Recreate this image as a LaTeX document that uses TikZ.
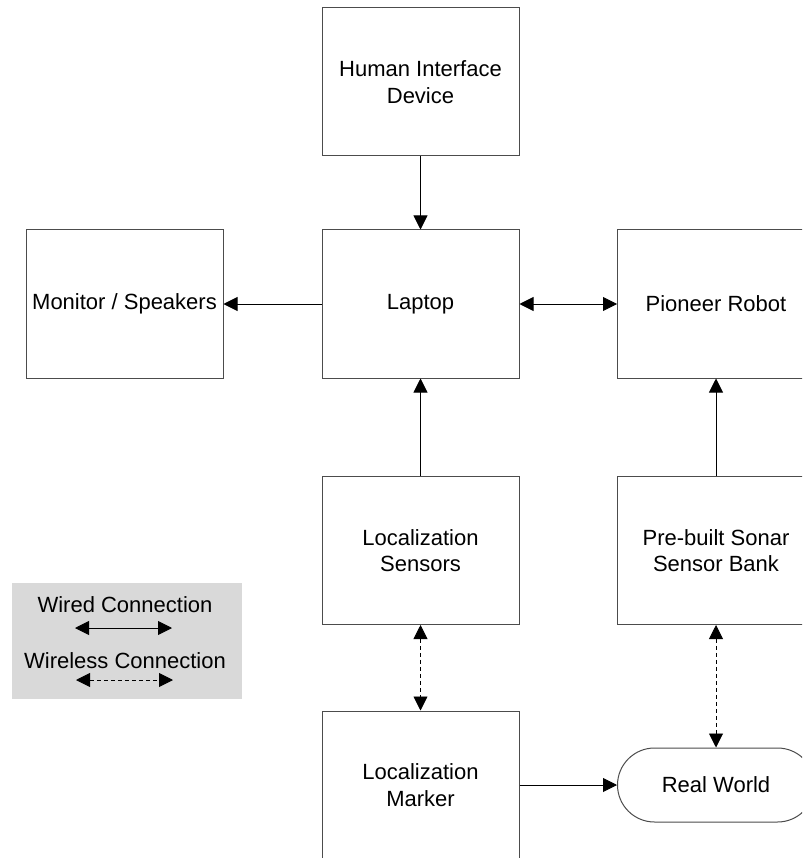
\documentclass[tikz,border=0pt]{standalone}
\usepackage{fontspec}
\setmainfont{Liberation Sans}
\usetikzlibrary{arrows.meta}
\begin{document}
\begin{tikzpicture}[x=1pt,y=-1pt,
  txt/.style={font=\fontsize{22}{26.5}\selectfont, align=center, inner sep=0pt},
  blk/.style={txt, draw=black!70, line width=1pt, fill=white,
    minimum width=197pt, minimum height=148pt},
  world/.style={txt, draw=black!70, line width=1pt, fill=white,
    minimum width=197pt, minimum height=74pt, rounded corners=37pt},
  tip/.tip={Triangle[length=14pt,width=14pt]},
  conn/.style={line width=0.9pt, -tip},
  both/.style={line width=0.9pt, tip-tip},
  wless/.style={both, dash pattern=on 4pt off 3pt},
  legendbox/.style={fill=black!15, draw=none, minimum width=230pt, minimum height=116pt, inner sep=0pt}]
\clip (0,0) rectangle (802,858);
\fill[white] (0,0) rectangle (802,858);

% blocks
\node[blk] (hid)     at (420.5,82)   {Human Interface\\Device};
\node[blk] (laptop)  at (420.5,304)  {Laptop};
\node[blk] (monitor) at (124.5,304)  {Monitor / Speakers};
\node[blk] (robot)   at (716,304)    {Pioneer Robot};
\node[blk] (locs)    at (420.5,550.5){Localization\\Sensors};
\node[blk] (sonar)   at (716,550.5)  {Pre-built Sonar\\Sensor Bank};
\node[blk] (marker)  at (420.5,785)  {Localization\\Marker};
\node[world] (real)  at (716,785)    {Real World};

% wired links
\draw[conn] (hid) -- (laptop);
\draw[conn] (laptop) -- (monitor);
\draw[both] (laptop) -- (robot);
\draw[conn] (locs) -- (laptop);
\draw[conn] (sonar) -- (robot);
\draw[conn] (marker) -- (real);

% wireless links
\draw[wless] (locs) -- (marker);
\draw[wless] (sonar.south) -- (real.north);

% legend
\node[legendbox] (legend) at (127,641) {};
\node[txt] (lwired) at (125,605) {Wired Connection};
\node[txt] (lwless) at (125,661) {Wireless Connection};
\coordinate (wa) at (75,628);
\coordinate (wb) at (172,628);
\coordinate (da) at (76,680);
\coordinate (db) at (173,680);
\draw[both] (wa) -- (wb);
\draw[wless] (da) -- (db);
\end{tikzpicture}
\end{document}
